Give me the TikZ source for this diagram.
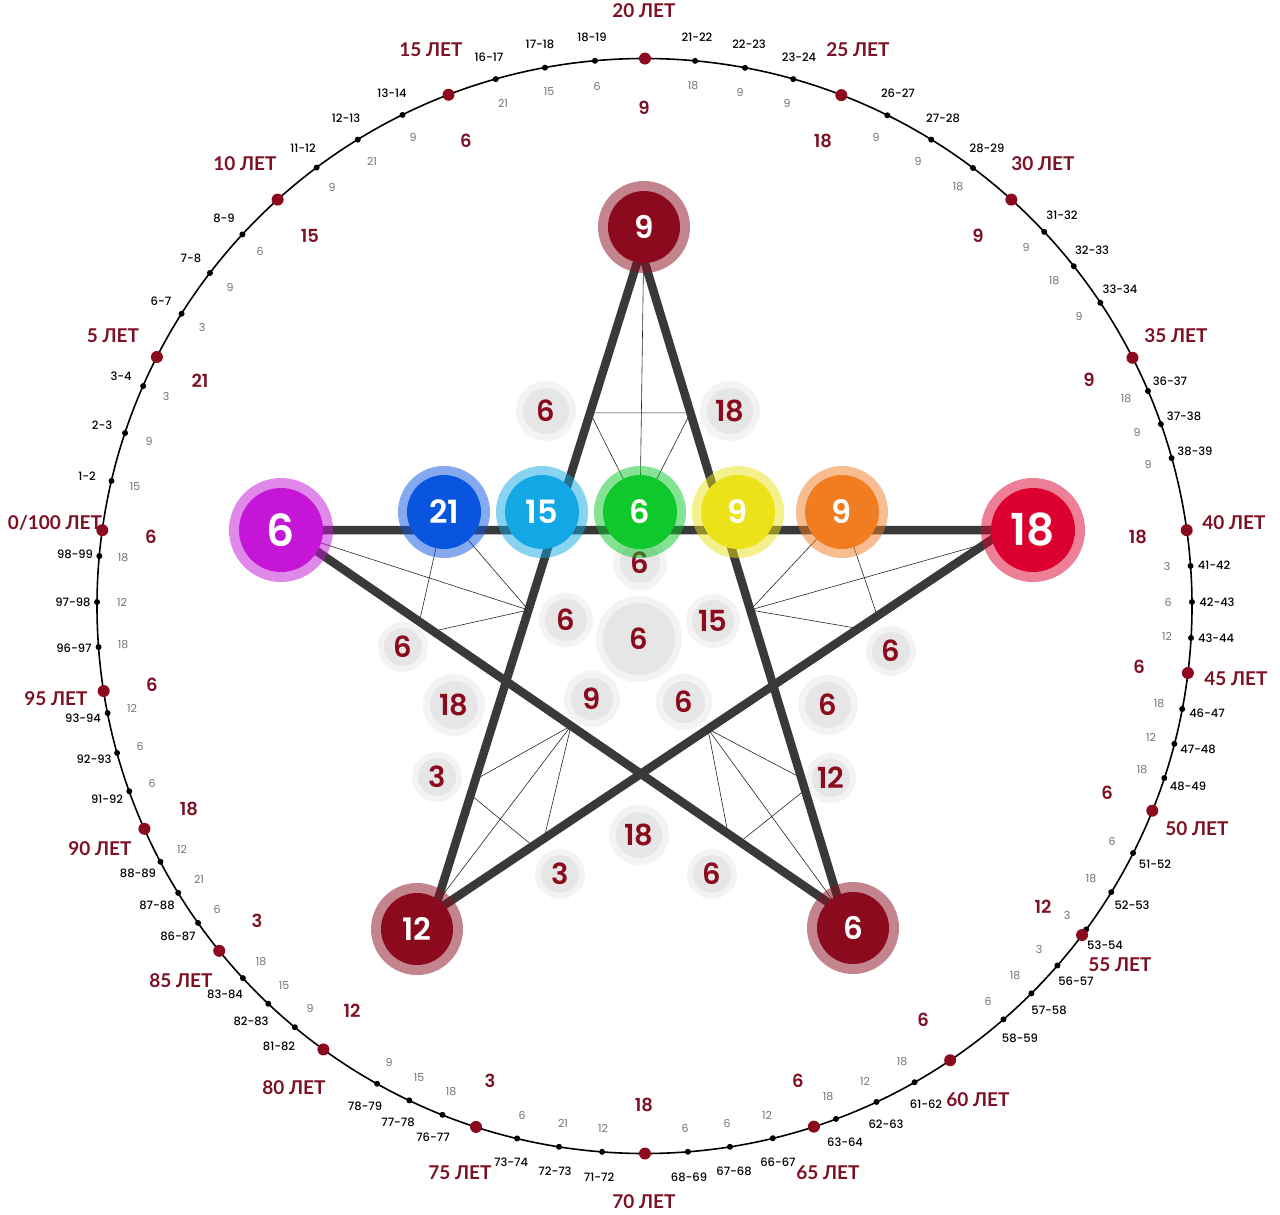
\documentclass[tikz,border=0pt]{standalone}
\usepackage{fontspec}
\setmainfont{Lato}
\newfontfamily\pop{Poppins}
\newfontfamily\popsb{Poppins}[UprightFont={* SemiBold}]
\newfontfamily\popmd{Poppins}[UprightFont={* Medium}]
\usetikzlibrary{calc}
\definecolor{dred}{HTML}{7D1227}
\definecolor{ndred}{HTML}{8B0A1E}
\definecolor{cpurple}{HTML}{C515D6}
\definecolor{cblue}{HTML}{0A55E0}
\definecolor{clblue}{HTML}{12A8E6}
\definecolor{cgreen}{HTML}{0EC82C}
\definecolor{cyellow}{HTML}{EBE21A}
\definecolor{corange}{HTML}{F07D22}
\definecolor{cred}{HTML}{DC0030}
\definecolor{gin}{HTML}{E6E6E6}
\definecolor{gout}{HTML}{F3F3F3}
\definecolor{starline}{HTML}{393939}
\begin{document}
\begin{tikzpicture}[x=1pt,y=-1pt,
  mdot/.style={circle,fill=ndred,inner sep=0pt,minimum size=12pt},
  sdot/.style={circle,fill=black,inner sep=0pt,minimum size=6pt},
  agelab/.style={text=dred,font=\normalfont\bfseries\fontsize{19}{19}\selectfont,inner sep=0pt},
  pairlab/.style={text=black,font=\popmd\fontsize{11.5}{12}\selectfont,inner sep=0pt},
  graynum/.style={text=black!55,font=\pop\fontsize{11}{11}\selectfont,inner sep=0pt},
  segnum/.style={text=dred,font=\popsb\fontsize{18}{18}\selectfont,inner sep=0pt},
  mnode/.style={circle,inner sep=0pt,text=white},
  gnode/.style={circle,inner sep=0pt,fill=gin,text=ndred,font=\popsb\fontsize{29}{29}\selectfont},
  thin/.style={black!85,line width=0.6pt},
  thick/.style={starline,line width=8.5pt,line join=round,line cap=round}]
\useasboundingbox (0,0) rectangle (1280,1215);
\fill[white] (0,0) rectangle (1280,1215);
\coordinate (O) at (644.5,606);
% ring
\draw[black,line width=1.6pt] (O) circle[radius=547.5];
% minor ticks
\foreach \lab/\dx/\dy/\lx/\ly/\g/\gx/\gy [count=\i] in {
1-2/112/481/87/476/15/135/487, 2-3/125/433/102/425/9/149/441, 3-4/143/386/121/376/3/166/396,
6-7/182/314/161/301/3/202/327, 7-8/210/273/191/258/9/230/287, 8-9/243/235/224/218/6/260/251,
11-12/317/168/303/148/9/332/187, 12-13/358/140/346/118/21/372/161, 13-14/403/116/392/93/9/413/137,
16-17/496/80/489/57/21/503/103, 17-18/545/68/540/44/15/549/92, 18-19/595/62/592/37/6/597/86,
21-22/695/62/697/37/18/693/86, 22-23/745/68/749/44/9/740/92, 23-24/793/80/799/57/9/787/103,
26-27/887/116/898/93/9/876/137, 27-28/931/140/943/118/9/918/161, 28-29/973/168/987/148/18/958/187,
31-32/1044/232/1062/215/9/1026/247, 32-33/1074/266/1092/250/18/1054/281, 33-34/1100/303/1120/289/9/1079/316,
36-37/1148/391/1170/381/18/1126/399, 37-38/1161/424/1184/416/9/1137/432, 38-39/1172/458/1195/451/9/1148/464,
41-42/1190/566/1214/565/3/1167/566, 42-43/1192/602/1217/602/6/1168/602, 43-44/1191/638/1216/638/12/1167/636,
46-47/1182/709/1207/713/18/1159/704, 47-48/1175/744/1198/749/12/1151/737, 48-49/1164/778/1188/786/18/1142/770,
51-52/1133/853/1155/864/6/1112/841, 52-53/1111/892/1132/905/18/1091/879, 53-54/1087/930/1105/945/3/1067/915,
56-57/1058/966/1076/981/3/1039/949, 57-58/1032/994/1049/1010/18/1015/976, 58-59/1004/1020/1020/1038/6/988/1001,
61-62/915/1083/926/1104/18/902/1062, 62-63/877/1103/886/1124/12/865/1081, 63-64/836/1119/845/1142/18/828/1097,
66-67/773/1139/778/1162/12/767/1115, 67-68/730/1147/734/1171/6/727/1123, 68-69/688/1153/689/1177/6/685/1128,
71-72/602/1153/599/1177/12/603/1128, 72-73/559/1147/555/1171/21/563/1123, 73-74/517/1139/511/1162/6/522/1115,
76-77/442/1116/433/1137/18/451/1092, 77-78/409/1101/398/1122/15/419/1078, 78-79/377/1084/365/1106/9/389/1062,
81-82/295/1027/279/1046/9/310/1008, 82-83/268/1004/251/1021/15/284/986, 83-84/243/978/225/994/18/261/962,
86-87/198/923/178/936/6/217/909, 87-88/178/893/157/905/21/199/879, 88-89/160/862/138/873/12/182/849,
91-92/130/791/107/799/6/152/783, 92-93/117/753/94/759/6/140/746, 93-94/108/713/83/718/12/132/708,
96-97/99/647/74/648/18/123/645, 97-98/97/602/73/602/12/122/602, 98-99/99/556/75/554/18/123/558}{
  \node[sdot] (sd\i) at ($(O)!547.5pt!(\dx,\dy)$) {};
  \node[pairlab] (sl\i) at (\lx,\ly) {\lab};
  \node[graynum] (sg\i) at (\gx,\gy) {\g};
}
% major ticks
\node[mdot] (md0) at ($(O)!547.5pt!(101,530)$) {};
\node[agelab] (ml0) at (55,523) {0/100 ЛЕТ};
\foreach \a/\dx/\dy/\lx/\ly in {5/157/357/113/336, 10/278/200/245/164, 15/449/96/431/50,
 20/645/59/644/11, 25/841/96/858/50, 30/1011/200/1043/164, 35/1132/358/1176/336,
 40/1188/530/1234/523, 45/1188/673/1236/679, 50/1153/811/1197/829, 55/1082/935/1120/965,
 60/950/1060/978/1100, 65/814/1127/828/1173, 70/645/1153/644/1202, 75/476/1127/460/1173,
 80/323/1050/294/1088, 85/219/951/181/981, 90/144/829/100/849, 95/104/691/56/699}{
  \node[mdot] (md\a) at ($(O)!547.5pt!(\dx,\dy)$) {};
  \node[agelab] (ml\a) at (\lx,\ly) {\a\ ЛЕТ};
}
% segment numbers
\foreach \n/\x/\y [count=\i] in {6/151/537, 21/200/381, 15/310/236, 6/466/141, 9/644/108,
 18/823/141, 9/978/236, 9/1089/380, 18/1138/537, 6/1139/667, 6/1107/793, 12/1043/907,
 6/923/1020, 6/798/1081, 18/644/1105, 3/490/1081, 12/352/1011, 3/257/921, 18/189/809, 6/152/685}{
  \node[segnum] (sn\i) at (\x,\y) {\n};
}
% gray circles
\foreach \n/\x/\y/\ro/\ri [count=\i] in {6/546/411/30/23, 18/730/411/30/23, 6/640/563/27/20,
 6/566/620/27/21, 6/639/639/43/36, 15/713/621/27/21, 6/403/647/25/19, 6/891/651/25/19,
 18/454/705/31/24, 9/592/699/28/21, 6/684/702/28/21, 6/828/705/30/23, 3/437/777/25/19,
 12/831/778/25/19, 18/639/835/30/23, 3/560/874/25/19, 6/712/874/25/19}{
  \fill[gout] (\x,\y) circle[radius=\ro];
  \node[gnode,minimum size=2*\ri pt] (gc\i) at (\x,\y) {\n};
}
% star vertices
\coordinate (T) at (641,250);
\coordinate (L) at (286,530);
\coordinate (R) at (1006,530);
\coordinate (BL) at (434,912);
\coordinate (BR) at (842,912);
% main node positions (for thin lines)
\coordinate (pTop) at (644,227);
\coordinate (pL) at (281,530);
\coordinate (pR) at (1033,530);
\coordinate (p21) at (444,512);
\coordinate (pG) at (640,512);
\coordinate (pO) at (842,512);
\coordinate (p12) at (417,929);
\coordinate (p6) at (853,928);
% thin lines
\coordinate (H1) at ($(T)!0.246!(BL)$);
\coordinate (H2) at ($(T)!0.246!(BR)$);
\coordinate (A) at ($(T)!0.5438!(BL)$);
\coordinate (B) at ($(T)!0.5438!(BR)$);
\coordinate (P1) at ($(L)!0.24!(BR)$);
\coordinate (P2) at ($(L)!0.265!(BR)$);
\coordinate (Q1) at ($(R)!0.225!(BL)$);
\coordinate (Q2) at ($(R)!0.258!(BL)$);
\coordinate (C) at ($(L)!0.5126!(BR)$);
\coordinate (E1) at ($(T)!0.80!(BL)$);
\coordinate (E2) at ($(R)!0.8077!(BL)$);
\coordinate (F1) at ($(T)!0.823!(BL)$);
\coordinate (F2) at ($(R)!0.827!(BL)$);
\coordinate (D) at ($(R)!0.521!(BL)$);
\coordinate (G1) at ($(T)!0.7976!(BR)$);
\coordinate (G2) at ($(L)!0.795!(BR)$);
\coordinate (K1) at ($(T)!0.8157!(BR)$);
\coordinate (K2) at ($(L)!0.8165!(BR)$);
\draw[thin] (H1) -- (H2) (H1) -- (pG) (H2) -- (pG) (pTop) -- (pG);
\draw[thin] (pL) -- (A) (p21) -- (A) (p21) -- (P1) (P2) -- (A);
\draw[thin] (pR) -- (B) (pO) -- (B) (pO) -- (Q1) (Q2) -- (B);
\draw[thin] (C) -- (E1) (C) -- (p12) (C) -- (E2) (F1) -- (F2);
\draw[thin] (D) -- (G1) (D) -- (p6) (D) -- (G2) (K1) -- (K2);
% thick star
\draw[thick] (T) -- (BL) -- (R) -- (L) -- (BR) -- cycle;
% main nodes
\foreach \nm/\x/\y/\ro/\ri/\c/\t/\fs in {top9/644/227/46/36/ndred/9/31, nL/281/530/52/42/cpurple/6/44,
 b21/444/512/46/37/cblue/21/32, lb15/542/512/46/37/clblue/15/32, g6/640/512/46/37/cgreen/6/32,
 y9/738/512/46/37/cyellow/9/32, o9/842/512/46/37/corange/9/32, nR/1033/530/52/42/cred/18/44,
 n12/417/929/46/36/ndred/12/31, n6b/853/928/46/36/ndred/6/31}{
  \fill[\c,opacity=.5] (\x,\y) circle[radius=\ro];
  \node[mnode,fill=\c,minimum size=2*\ri pt,font=\popsb\fontsize{\fs}{\fs}\selectfont] (\nm) at (\x,\y) {\t};
}
\end{tikzpicture}
\end{document}
